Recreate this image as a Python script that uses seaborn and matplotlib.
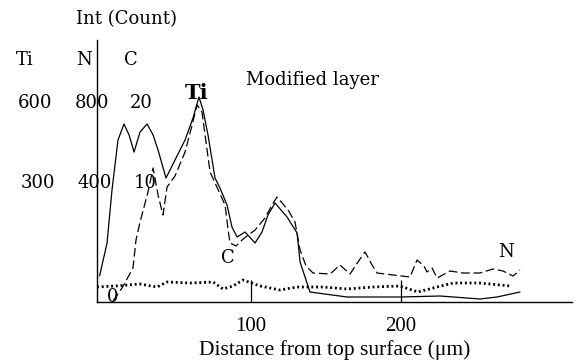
import matplotlib
matplotlib.use("Agg")
import matplotlib.pyplot as plt
import seaborn as sns
import pandas as pd

# Depth profile (distance in µm, intensity in arbitrary units above baseline)
ti_depth = [-1, 4, 7.3, 11.3, 15.3, 18.7, 22, 26, 30.7, 34.7, 38, 43.3, 49.3, 56, 61.3,
            65.3, 68, 71.3, 76, 79.3, 84, 87.3, 90.7, 96, 102.7, 107.3, 111.3, 116, 124,
            130.7, 132.7, 139.3, 164, 199.3, 226, 252.7, 264, 279.3]
ti_int = [26, 59, 112, 162, 178, 167, 150, 170, 178, 167, 152, 124, 142, 162, 184,
          205, 192, 167, 124, 114, 97, 75, 65, 70, 59, 70, 87, 99, 85,
          69, 40, 10, 5, 5, 6, 3, 5, 10]

n_depth = [8, 14, 21.3, 23.3, 26, 31.3, 34.7, 38, 41.3, 44, 49.3, 56, 60.7, 64, 67.3,
           70.7, 72.7, 76, 82.7, 84.7, 86, 90, 94, 97.3, 102.7, 109.3, 114, 117.3, 124.7,
           129.3, 132.7, 136.7, 141.3, 152.7, 159.3, 166, 171.3, 176, 180.7, 184, 194.7,
           206, 210.7, 215.3, 217.3, 220.7, 224, 232.7, 241.3, 252.7, 261.3, 268, 274.7, 279.3]
n_int = [1, 14, 34, 62, 80, 110, 134, 107, 87, 115, 126, 150, 177, 197, 190,
         152, 130, 119, 97, 72, 59, 56, 62, 66, 72, 84, 97, 105, 92,
         80, 52, 36, 29, 28, 37, 28, 40, 50, 37, 29, 27,
         25, 42, 36, 30, 34, 24, 31, 29, 29, 33, 31, 26, 32]

c_depth = [-2.7, 9.3, 26, 37.3, 44, 59.3, 74.7, 81.3, 88, 94.7, 106, 119.3, 130.7,
           148, 164, 181.3, 199.3, 211.3, 224, 234.7, 252.7, 272.7]
c_int = [15, 16, 18, 15, 20, 19, 20, 13, 16, 22, 16, 12, 15,
         15, 13, 15, 16, 10, 15, 19, 19, 16]

x_ticks = [100, 200]
scale_heads = ["Ti", "N", "C"]
scale_top = ["600", "800", "20"]
scale_mid = ["300", "400", "10"]

sns.set_style("white")
plt.rcParams["font.family"] = ["Liberation Serif", "DejaVu Serif"]
plt.rcParams["font.size"] = 15
for key in ["text.color", "axes.labelcolor", "xtick.color", "ytick.color",
            "axes.edgecolor"]:
    plt.rcParams[key] = "black"

W, H = 576, 364
fig = plt.figure(figsize=(W / 100, H / 100), dpi=100)
ax = fig.add_axes([97 / W, 1 - 302 / H, (572 - 97) / W, (302 - 40) / H])

ti = pd.DataFrame({"d": ti_depth, "i": ti_int})
nn = pd.DataFrame({"d": n_depth, "i": n_int})
cc = pd.DataFrame({"d": c_depth, "i": c_int})

sns.lineplot(data=ti, x="d", y="i", ax=ax, color="black", lw=0.9, sort=False)
sns.lineplot(data=nn, x="d", y="i", ax=ax, color="black", lw=0.9, sort=False)
ax.lines[-1].set_dashes([7, 3])
sns.lineplot(data=cc, x="d", y="i", ax=ax, color="black", lw=2.0, sort=False)
ax.lines[-1].set_linestyle((0, (0.7, 1.0)))

ax.set_xlim(-2.7, 314)
ax.set_ylim(0, 262)
ax.set_xticks(x_ticks)
ax.set_xticklabels([str(t) for t in x_ticks])
ax.set_yticks([])
ax.tick_params(axis="x", direction="in", length=15.5, width=0.9, pad=11,
               bottom=True, labelsize=15, colors="black")
for s in ["top", "right"]:
    ax.spines[s].set_visible(False)
for s in ["left", "bottom"]:
    ax.spines[s].set_color("black")
    ax.spines[s].set_linewidth(1.0)
ax.set_xlabel("Distance from top surface (μm)", fontsize=15.5, labelpad=3,
              color="black")
ax.set_ylabel("")

# Scale labels for the three elements, left of the axis
wide = ["DejaVu Serif"]


def fx(px):
    return px / W


def fy(py):
    return 1 - py / H


fig.text(fx(127), fy(19), "Int (Count)", ha="center", va="center",
         fontsize=13, family=wide)
for x, head in zip([25, 84, 131], scale_heads):
    fig.text(fx(x), fy(60), head, ha="center", va="center", fontsize=13, family=wide)
for x, top in zip([35, 92, 141], scale_top):
    fig.text(fx(x), fy(103), top, ha="center", va="center", fontsize=13, family=wide)
for x, mid in zip([38, 95, 145], scale_mid):
    fig.text(fx(x), fy(183), mid, ha="center", va="center", fontsize=13, family=wide)
fig.text(fx(113), fy(297), "0", ha="center", va="center", fontsize=13, family=wide)

# Curve labels
ax.text(64, 209, "Ti", ha="center", va="center", fontsize=15, fontweight="bold",
        family=wide)
ax.text(84.7, 44, "C", ha="center", va="center", fontsize=13, family=wide)
ax.text(270, 50, "N", ha="center", va="center", fontsize=13, family=wide)
ax.text(141, 222, "Modified layer", ha="center", va="center", fontsize=13, family=wide)

fig.savefig("out.png", dpi=100)
